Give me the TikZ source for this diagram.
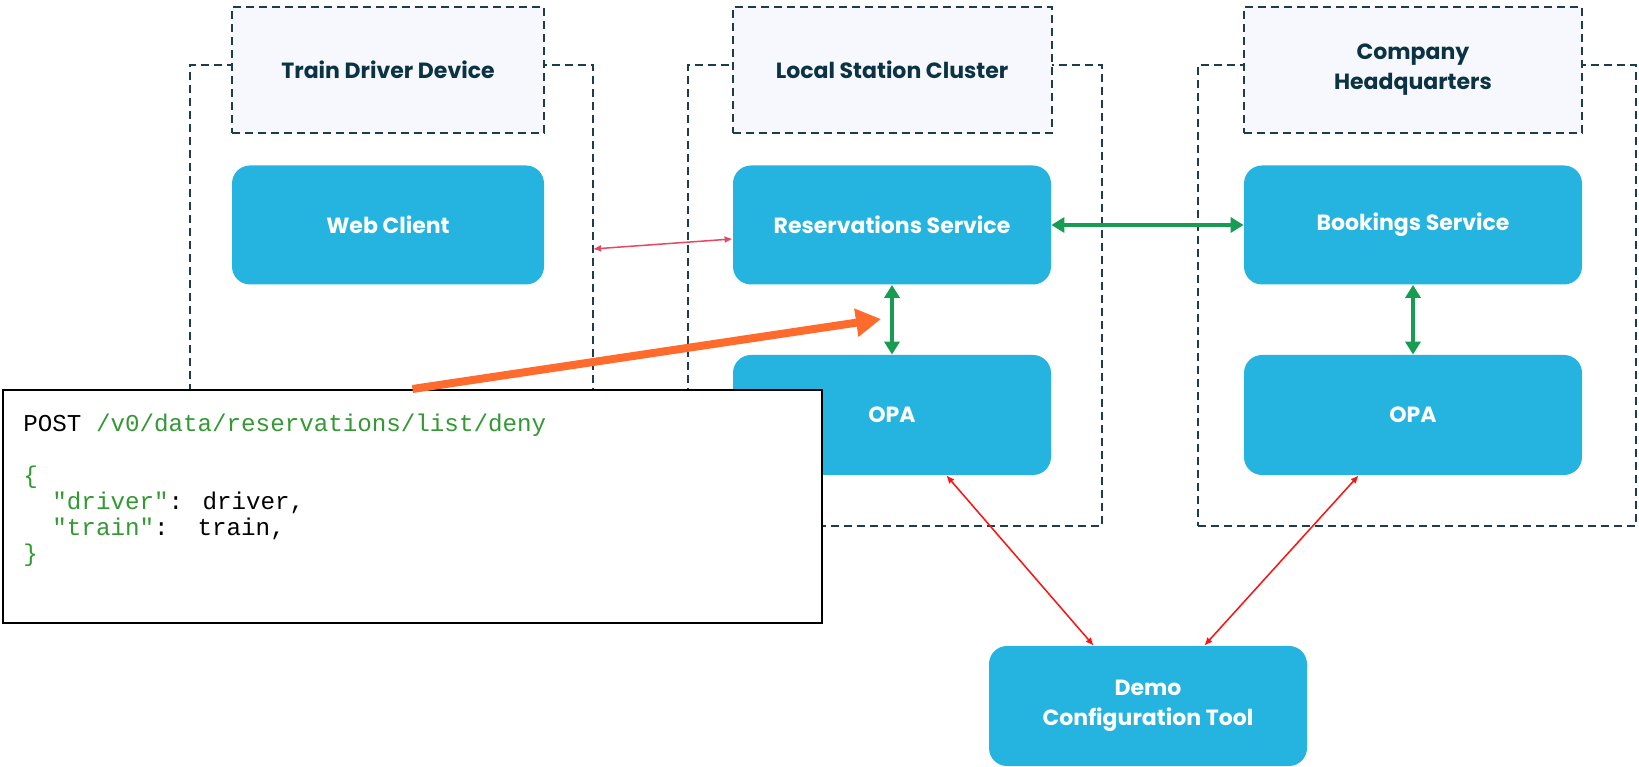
\documentclass[tikz,border=0pt]{standalone}
\usepackage{fontspec}
\setmainfont{Poppins}
\newfontfamily\codefont{Liberation Mono}
\usetikzlibrary{arrows.meta}
\definecolor{boxblue}{HTML}{25B4E0}
\definecolor{headfill}{HTML}{F6F8FD}
\definecolor{zoneline}{HTML}{1D3D4D}
\definecolor{headtext}{HTML}{0B3343}
\definecolor{syncgreen}{HTML}{179C52}
\definecolor{webred}{HTML}{E8475F}
\definecolor{cfgred}{HTML}{FF1010}
\definecolor{queryorange}{HTML}{FF6B2C}
\definecolor{codegreen}{HTML}{339933}
\tikzstyle{zone} = [draw=zoneline, dash pattern=on 4pt off 2.5pt, line width=1pt, rectangle, minimum height=230.5pt]
\tikzstyle{header} = [align=center, draw=zoneline, fill=headfill, dash pattern=on 4pt off 2.5pt, line width=1pt, rectangle, text=headtext, font=\fontsize{11}{15}\selectfont\bfseries, minimum height=63pt]
\tikzstyle{service} = [align=center, fill=boxblue, rectangle, rounded corners=9pt, text=white, font=\fontsize{11}{15}\selectfont\bfseries, minimum height=59.5pt]
\tikzstyle{codebox} = [draw=black, fill=white, line width=1pt, rectangle]
\tikzstyle{listing} = [align=left, inner sep=0pt, font=\fontsize{12.1}{13}\codefont]
\tikzstyle{sync} = [{Triangle[length=6.5pt,width=7.5pt]}-{Triangle[length=6.5pt,width=7.5pt]}, draw=syncgreen, line width=2pt]
\tikzstyle{call} = [{Latex[length=4pt,width=3.5pt]}-{Latex[length=4pt,width=3.5pt]}, line width=0.75pt]
\tikzstyle{query} = [-{Triangle[length=12.5pt,width=13.5pt]}, draw=queryorange, line width=4pt]

\begin{document}
\begin{tikzpicture}[x=0.5pt, y=0.5pt, node distance=77.5pt]
\useasboundingbox (0,0) rectangle (1639,766);
% zones
\node (tdd) [zone, minimum width=201.5pt] at (391.5,470.5) {};
\node (lsc) [zone, minimum width=207pt] at (895,470.5) {};
\node (chq) [zone, minimum width=219pt] at (1417,470.5) {};
\node (tddhd) [header, minimum width=156pt] at (388,696) {Train Driver Device};
\node (lschd) [header, minimum width=159.5pt] at (892,696) {Local Station Cluster};
\node (chqhd) [header, minimum width=169pt] at (1413,696) {Company\\Headquarters};
% services
\node (web) [service, minimum width=156pt, below of=tddhd] {Web Client};
\node (res) [service, minimum width=159pt, below of=lschd] {Reservations Service};
\node (book) [service, minimum width=169pt, below of=chqhd] {Bookings Service};
\node (opa1) [service, minimum width=159pt, minimum height=60pt, below of=res, node distance=95pt] {OPA};
\node (opa2) [service, minimum width=169pt, minimum height=60pt, below of=book, node distance=95pt] {OPA};
\node (cfg) [service, minimum width=159pt, minimum height=60pt] at (1148,60) {Demo\\Configuration Tool};
\coordinate (webout) at (593,517);
\draw [call, webred] (webout) -- (res.185);
\draw [sync] (res) -- (book);
\draw [sync] (res) -- (opa1);
\draw [sync] (book) -- (opa2);
\draw [call, cfgred] (opa1.-48) -- (cfg.132);
\draw [call, cfgred] (opa2.-132) -- (cfg.47);
% request
\node (code) [codebox, minimum width=409.5pt, minimum height=116.5pt] at (412.5,259.5) {};
\node (req) [listing, anchor=north west] at (23,352) {%
POST \textcolor{codegreen}{/v0/data/reservations/list/deny}\\
\mbox{}\\
\textcolor{codegreen}{\{}\\
\phantom{xx}\textcolor{codegreen}{"driver"}: driver,\\
\phantom{xx}\textcolor{codegreen}{"train"}:\ \ train,\\
\textcolor{codegreen}{\}}};
\coordinate (hit) at (881,447);
\draw [query] (code.north) -- (hit);
\end{tikzpicture}
\end{document}
